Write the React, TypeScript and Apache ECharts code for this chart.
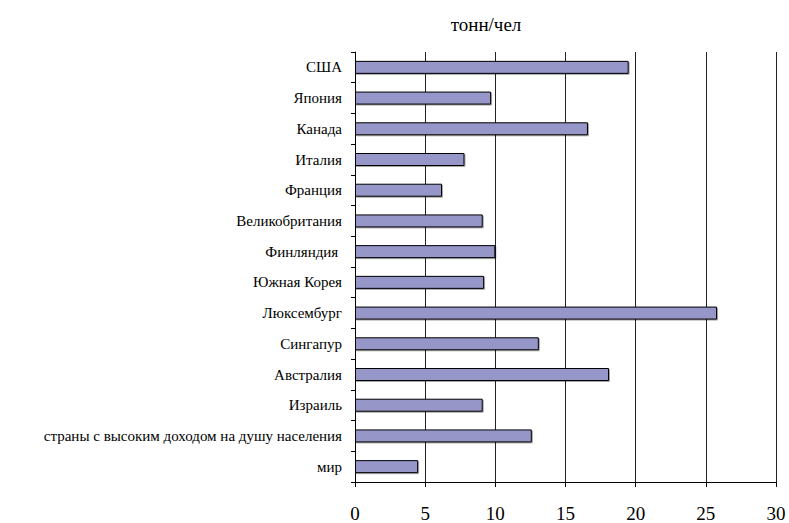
import React, { useEffect, useRef } from "react";
import * as echarts from "echarts";

const categories = [
  "США",
  "Япония",
  "Канада",
  "Италия",
  "Франция",
  "Великобритания",
  "Финляндия\u00a0",
  "Южная Корея",
  "Люксембург",
  "Сингапур",
  "Австралия",
  "Израиль",
  "страны с высоким доходом на душу населения",
  "мир",
];

const values = [19.5, 9.7, 16.6, 7.8, 6.2, 9.1, 10.0, 9.2, 25.8, 13.1, 18.1, 9.1, 12.6, 4.5];

const xTicks = { min: 0, max: 30, interval: 5 };

const titleText = "тонн/чел";

const FONT = "'Liberation Serif', 'DejaVu Serif', serif";

export default function App() {
  const ref = useRef<HTMLDivElement>(null);
  useEffect(() => {
    if (!ref.current) return;
    const chart = echarts.init(ref.current, null, { renderer: "svg" });
    chart.setOption({
      animation: false,
      backgroundColor: "#ffffff",
      textStyle: { fontFamily: FONT },
      title: {
        text: titleText,
        left: 481,
        top: 10,
        textAlign: "center",
        textStyle: { fontFamily: FONT, fontSize: 19, fontWeight: "normal", color: "#000" },
      },
      grid: { left: 355, right: 13, top: 52, bottom: 39, containLabel: false },
      xAxis: {
        type: "value",
        min: xTicks.min,
        max: xTicks.max,
        interval: xTicks.interval,
        axisLine: { show: true, lineStyle: { color: "#000", width: 1 } },
        axisTick: { show: true, length: 5, lineStyle: { color: "#000" } },
        axisLabel: { fontFamily: FONT, fontSize: 19, color: "#000", margin: 22 },
        splitLine: { show: true, lineStyle: { color: "#222", width: 1 } },
      },
      yAxis: {
        type: "category",
        data: categories,
        inverse: true,
        axisLine: { show: true, lineStyle: { color: "#000", width: 1 } },
        axisTick: { show: true, length: 4, inside: false, lineStyle: { color: "#000" } },
        axisLabel: { fontFamily: FONT, fontSize: 15, color: "#000", margin: 13 },
        splitLine: { show: false },
      },
      series: [
        {
          type: "bar",
          data: values,
          barWidth: 13,
          itemStyle: {
            color: "#9696c8",
            borderColor: "#000",
            borderWidth: 1,
            shadowColor: "rgba(0,0,0,0.35)",
            shadowOffsetX: 1,
            shadowOffsetY: 1,
            shadowBlur: 0,
          },
        },
      ],
    });
    return () => chart.dispose();
  }, []);
  return (
    <div
      ref={ref}
      style={{ position: "fixed", left: 0, top: 0, width: 789, height: 523, background: "#fff" }}
    />
  );
}
